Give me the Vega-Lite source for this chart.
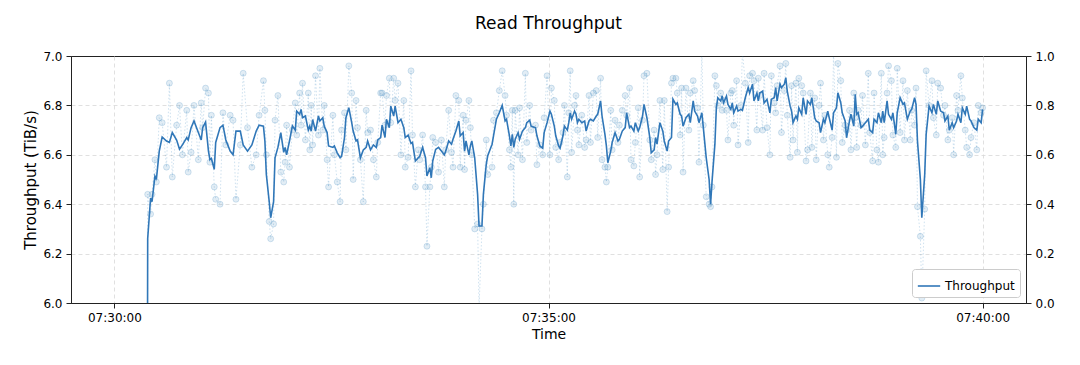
{
  "$schema": "https://vega.github.io/schema/vega-lite/v6.json",
  "width": 955,
  "height": 247,
  "autosize": {"type": "none"},
  "padding": {"left": 71, "top": 56, "right": 54, "bottom": 62},
  "background": "white",
  "title": {"text": "Read Throughput", "fontSize": 17, "fontWeight": "normal", "font": "DejaVu Sans", "color": "#000", "offset": 17, "anchor": "middle"},
  "data": {
    "format": {"parse": {"t": "date:'%H:%M:%S'"}},
    "values": [
      {"t":"07:30:00","v":0,"r":0},{"t":"07:30:21","v":0,"r":0},
      {"t":"07:30:23","v":6.26,"r":6.44},{"t":"07:30:25","v":6.425,"r":6.36},{"t":"07:30:26","v":6.41,"r":6.44},
      {"t":"07:30:28","v":6.514,"r":6.58},{"t":"07:30:29","v":6.50,"r":6.49},{"t":"07:30:31","v":6.615,"r":6.75},
      {"t":"07:30:33","v":6.672,"r":6.73},{"t":"07:30:36","v":6.656,"r":6.55},{"t":"07:30:38","v":6.65,"r":6.89},
      {"t":"07:30:40","v":6.69,"r":6.51},{"t":"07:30:43","v":6.66,"r":6.72},{"t":"07:30:45","v":6.623,"r":6.80},
      {"t":"07:30:47","v":6.64,"r":6.60},{"t":"07:30:50","v":6.67,"r":6.78},{"t":"07:30:51","v":6.66,"r":6.53},
      {"t":"07:30:53","v":6.71,"r":6.61},{"t":"07:30:55","v":6.737,"r":6.80},{"t":"07:30:58","v":6.69,"r":6.58},
      {"t":"07:31:00","v":6.66,"r":6.81},{"t":"07:31:01","v":6.71,"r":6.71},{"t":"07:31:03","v":6.733,"r":6.87},
      {"t":"07:31:05","v":6.615,"r":6.85},{"t":"07:31:06","v":6.58,"r":6.57},{"t":"07:31:07","v":6.585,"r":6.76},
      {"t":"07:31:09","v":6.541,"r":6.47},{"t":"07:31:10","v":6.65,"r":6.42},{"t":"07:31:13","v":6.71,"r":6.40},
      {"t":"07:31:15","v":6.72,"r":6.77},{"t":"07:31:17","v":6.66,"r":6.64},{"t":"07:31:20","v":6.615,"r":6.76},
      {"t":"07:31:22","v":6.60,"r":6.74},{"t":"07:31:24","v":6.696,"r":6.42},{"t":"07:31:27","v":6.696,"r":6.64},
      {"t":"07:31:29","v":6.64,"r":6.93},{"t":"07:31:32","v":6.615,"r":6.71},{"t":"07:31:35","v":6.64,"r":6.55},
      {"t":"07:31:38","v":6.696,"r":6.60},{"t":"07:31:40","v":6.72,"r":6.76},{"t":"07:31:43","v":6.716,"r":6.90},
      {"t":"07:31:44","v":6.656,"r":6.78},{"t":"07:31:45","v":6.52,"r":6.60},{"t":"07:31:47","v":6.41,"r":6.33},
      {"t":"07:31:48","v":6.345,"r":6.26},{"t":"07:31:50","v":6.41,"r":6.32},{"t":"07:31:51","v":6.588,"r":6.74},
      {"t":"07:31:53","v":6.63,"r":6.84},{"t":"07:31:55","v":6.69,"r":6.53},{"t":"07:31:57","v":6.61,"r":6.49},
      {"t":"07:31:58","v":6.63,"r":6.57},{"t":"07:31:59","v":6.60,"r":6.72},{"t":"07:32:01","v":6.656,"r":6.55},
      {"t":"07:32:03","v":6.717,"r":6.70},{"t":"07:32:05","v":6.70,"r":6.81},{"t":"07:32:06","v":6.777,"r":6.68},
      {"t":"07:32:08","v":6.764,"r":6.85},{"t":"07:32:09","v":6.784,"r":6.72},{"t":"07:32:10","v":6.75,"r":6.89},
      {"t":"07:32:12","v":6.757,"r":6.66},{"t":"07:32:14","v":6.70,"r":6.85},{"t":"07:32:15","v":6.716,"r":6.62},
      {"t":"07:32:16","v":6.696,"r":6.80},{"t":"07:32:17","v":6.743,"r":6.64},{"t":"07:32:19","v":6.696,"r":6.92},
      {"t":"07:32:21","v":6.757,"r":6.68},{"t":"07:32:22","v":6.737,"r":6.95},{"t":"07:32:24","v":6.75,"r":6.70},
      {"t":"07:32:25","v":6.716,"r":6.80},{"t":"07:32:27","v":6.69,"r":6.58},{"t":"07:32:28","v":6.636,"r":6.47},
      {"t":"07:32:31","v":6.63,"r":6.76},{"t":"07:32:32","v":6.636,"r":6.60},{"t":"07:32:34","v":6.608,"r":6.49},
      {"t":"07:32:36","v":6.588,"r":6.41},{"t":"07:32:37","v":6.594,"r":6.70},{"t":"07:32:39","v":6.669,"r":6.77},
      {"t":"07:32:40","v":6.75,"r":6.62},{"t":"07:32:42","v":6.791,"r":6.96},{"t":"07:32:44","v":6.73,"r":6.85},
      {"t":"07:32:45","v":6.696,"r":6.50},{"t":"07:32:47","v":6.656,"r":6.82},{"t":"07:32:48","v":6.66,"r":6.71},
      {"t":"07:32:50","v":6.588,"r":6.58},{"t":"07:32:52","v":6.62,"r":6.41},{"t":"07:32:54","v":6.63,"r":6.78},
      {"t":"07:32:55","v":6.656,"r":6.69},{"t":"07:32:57","v":6.62,"r":6.70},{"t":"07:32:59","v":6.64,"r":6.58},
      {"t":"07:33:01","v":6.63,"r":6.51},{"t":"07:33:02","v":6.66,"r":6.65},{"t":"07:33:04","v":6.67,"r":6.85},
      {"t":"07:33:05","v":6.72,"r":6.85},{"t":"07:33:07","v":6.67,"r":6.72},{"t":"07:33:08","v":6.744,"r":6.84},
      {"t":"07:33:10","v":6.71,"r":6.91},{"t":"07:33:11","v":6.797,"r":6.73},{"t":"07:33:13","v":6.757,"r":6.91},
      {"t":"07:33:14","v":6.797,"r":6.82},{"t":"07:33:16","v":6.73,"r":6.89},{"t":"07:33:18","v":6.744,"r":6.60},
      {"t":"07:33:20","v":6.71,"r":6.82},{"t":"07:33:21","v":6.67,"r":6.55},{"t":"07:33:23","v":6.68,"r":6.59},
      {"t":"07:33:25","v":6.646,"r":6.94},{"t":"07:33:26","v":6.65,"r":6.68},{"t":"07:33:28","v":6.575,"r":6.47},
      {"t":"07:33:30","v":6.588,"r":6.62},{"t":"07:33:31","v":6.594,"r":6.58},{"t":"07:33:33","v":6.63,"r":6.68},
      {"t":"07:33:35","v":6.588,"r":6.47},{"t":"07:33:36","v":6.514,"r":6.23},{"t":"07:33:38","v":6.548,"r":6.47},
      {"t":"07:33:39","v":6.507,"r":6.55},{"t":"07:33:40","v":6.575,"r":6.67},{"t":"07:33:42","v":6.622,"r":6.65},
      {"t":"07:33:44","v":6.63,"r":6.53},{"t":"07:33:46","v":6.615,"r":6.66},{"t":"07:33:48","v":6.60,"r":6.47},
      {"t":"07:33:49","v":6.615,"r":6.62},{"t":"07:33:51","v":6.656,"r":6.78},{"t":"07:33:53","v":6.643,"r":6.61},
      {"t":"07:33:54","v":6.663,"r":6.55},{"t":"07:33:56","v":6.696,"r":6.84},{"t":"07:33:58","v":6.737,"r":6.82},
      {"t":"07:33:59","v":6.677,"r":6.55},{"t":"07:34:01","v":6.69,"r":6.76},{"t":"07:34:02","v":6.615,"r":6.54},
      {"t":"07:34:03","v":6.656,"r":6.74},{"t":"07:34:05","v":6.60,"r":6.82},{"t":"07:34:06","v":6.636,"r":6.71},
      {"t":"07:34:07","v":6.656,"r":6.60},{"t":"07:34:09","v":6.588,"r":6.30},{"t":"07:34:11","v":6.44,"r":6.32},
      {"t":"07:34:12","v":6.312,"r":5.98},{"t":"07:34:14","v":6.312,"r":6.30},{"t":"07:34:15","v":6.44,"r":6.40},
      {"t":"07:34:17","v":6.562,"r":6.66},{"t":"07:34:18","v":6.596,"r":6.52},{"t":"07:34:21","v":6.643,"r":6.55},
      {"t":"07:34:22","v":6.677,"r":6.74},{"t":"07:34:24","v":6.744,"r":6.77},{"t":"07:34:26","v":6.77,"r":6.86},
      {"t":"07:34:28","v":6.80,"r":6.94},{"t":"07:34:30","v":6.737,"r":6.84},{"t":"07:34:31","v":6.744,"r":6.76},
      {"t":"07:34:33","v":6.677,"r":6.62},{"t":"07:34:34","v":6.636,"r":6.55},{"t":"07:34:35","v":6.683,"r":6.78},
      {"t":"07:34:36","v":6.63,"r":6.40},{"t":"07:34:37","v":6.663,"r":6.78},{"t":"07:34:39","v":6.69,"r":6.60},
      {"t":"07:34:40","v":6.663,"r":6.79},{"t":"07:34:42","v":6.696,"r":6.58},{"t":"07:34:44","v":6.71,"r":6.93},
      {"t":"07:34:45","v":6.73,"r":6.65},{"t":"07:34:47","v":6.74,"r":6.80},{"t":"07:34:48","v":6.716,"r":6.70},
      {"t":"07:34:51","v":6.71,"r":6.72},{"t":"07:34:52","v":6.677,"r":6.56},{"t":"07:34:54","v":6.636,"r":6.64},
      {"t":"07:34:56","v":6.627,"r":6.60},{"t":"07:34:57","v":6.69,"r":6.75},{"t":"07:34:59","v":6.73,"r":6.92},
      {"t":"07:35:01","v":6.777,"r":6.60},{"t":"07:35:02","v":6.764,"r":6.87},{"t":"07:35:04","v":6.716,"r":6.82},
      {"t":"07:35:05","v":6.677,"r":6.63},{"t":"07:35:07","v":6.636,"r":6.58},{"t":"07:35:08","v":6.627,"r":6.65},
      {"t":"07:35:10","v":6.677,"r":6.69},{"t":"07:35:11","v":6.716,"r":6.80},{"t":"07:35:13","v":6.70,"r":6.51},
      {"t":"07:35:14","v":6.73,"r":6.77},{"t":"07:35:15","v":6.77,"r":6.94},{"t":"07:35:16","v":6.744,"r":6.61},
      {"t":"07:35:18","v":6.777,"r":6.80},{"t":"07:35:19","v":6.764,"r":6.84},{"t":"07:35:20","v":6.73,"r":6.70},
      {"t":"07:35:21","v":6.744,"r":6.64},{"t":"07:35:23","v":6.73,"r":6.76},{"t":"07:35:25","v":6.737,"r":6.63},
      {"t":"07:35:26","v":6.696,"r":6.66},{"t":"07:35:28","v":6.737,"r":6.84},{"t":"07:35:29","v":6.744,"r":6.65},
      {"t":"07:35:31","v":6.737,"r":6.85},{"t":"07:35:33","v":6.757,"r":6.86},{"t":"07:35:34","v":6.764,"r":6.67},
      {"t":"07:35:36","v":6.818,"r":6.91},{"t":"07:35:37","v":6.757,"r":6.58},{"t":"07:35:39","v":6.683,"r":6.55},
      {"t":"07:35:40","v":6.636,"r":6.49},{"t":"07:35:41","v":6.568,"r":6.55},{"t":"07:35:43","v":6.615,"r":6.78},
      {"t":"07:35:44","v":6.65,"r":6.62},{"t":"07:35:46","v":6.69,"r":6.74},{"t":"07:35:48","v":6.656,"r":6.65},
      {"t":"07:35:49","v":6.663,"r":6.72},{"t":"07:35:51","v":6.696,"r":6.78},{"t":"07:35:53","v":6.71,"r":6.84},
      {"t":"07:35:54","v":6.77,"r":6.76},{"t":"07:35:56","v":6.71,"r":6.87},{"t":"07:35:57","v":6.716,"r":6.58},
      {"t":"07:35:59","v":6.696,"r":6.555},{"t":"07:36:00","v":6.73,"r":6.65},{"t":"07:36:02","v":6.696,"r":6.79},
      {"t":"07:36:03","v":6.71,"r":6.51},{"t":"07:36:05","v":6.757,"r":6.74},{"t":"07:36:06","v":6.804,"r":6.92},
      {"t":"07:36:08","v":6.75,"r":6.93},{"t":"07:36:10","v":6.67,"r":6.66},{"t":"07:36:11","v":6.608,"r":6.58},
      {"t":"07:36:13","v":6.62,"r":6.70},{"t":"07:36:14","v":6.67,"r":6.52},{"t":"07:36:15","v":6.643,"r":6.60},
      {"t":"07:36:17","v":6.73,"r":6.82},{"t":"07:36:19","v":6.696,"r":6.54},{"t":"07:36:20","v":6.656,"r":6.82},
      {"t":"07:36:22","v":6.615,"r":6.37},{"t":"07:36:23","v":6.656,"r":6.55},{"t":"07:36:25","v":6.67,"r":6.89},
      {"t":"07:36:26","v":6.825,"r":6.91},{"t":"07:36:28","v":6.804,"r":6.91},{"t":"07:36:29","v":6.81,"r":6.85},
      {"t":"07:36:31","v":6.764,"r":6.68},{"t":"07:36:32","v":6.757,"r":6.87},{"t":"07:36:33","v":6.716,"r":6.53},
      {"t":"07:36:35","v":6.75,"r":6.87},{"t":"07:36:37","v":6.764,"r":6.70},{"t":"07:36:38","v":6.73,"r":6.85},
      {"t":"07:36:40","v":6.818,"r":6.90},{"t":"07:36:41","v":6.777,"r":6.86},{"t":"07:36:43","v":6.757,"r":6.79},
      {"t":"07:36:44","v":6.73,"r":6.57},{"t":"07:36:46","v":6.77,"r":7.02},{"t":"07:36:47","v":6.71,"r":6.72},
      {"t":"07:36:49","v":6.588,"r":6.43},{"t":"07:36:51","v":6.50,"r":6.40},{"t":"07:36:52","v":6.40,"r":6.39},
      {"t":"07:36:53","v":6.49,"r":6.47},{"t":"07:36:55","v":6.643,"r":6.92},{"t":"07:36:56","v":6.79,"r":6.88},
      {"t":"07:36:57","v":6.831,"r":6.80},{"t":"07:36:59","v":6.818,"r":6.85},{"t":"07:37:00","v":6.838,"r":6.78},
      {"t":"07:37:01","v":6.81,"r":6.82},{"t":"07:37:03","v":6.838,"r":6.78},{"t":"07:37:04","v":6.804,"r":6.66},
      {"t":"07:37:06","v":6.784,"r":6.85},{"t":"07:37:07","v":6.81,"r":6.86},{"t":"07:37:08","v":6.77,"r":6.72},
      {"t":"07:37:10","v":6.797,"r":6.90},{"t":"07:37:11","v":6.777,"r":6.64},{"t":"07:37:13","v":6.784,"r":6.80},
      {"t":"07:37:14","v":6.78,"r":7.02},{"t":"07:37:16","v":6.831,"r":6.89},{"t":"07:37:18","v":6.872,"r":6.65},
      {"t":"07:37:19","v":6.85,"r":6.92},{"t":"07:37:21","v":6.886,"r":6.93},{"t":"07:37:22","v":6.818,"r":6.90},
      {"t":"07:37:24","v":6.85,"r":6.70},{"t":"07:37:25","v":6.818,"r":6.91},{"t":"07:37:26","v":6.85,"r":6.84},
      {"t":"07:37:28","v":6.858,"r":6.70},{"t":"07:37:29","v":6.81,"r":6.93},{"t":"07:37:31","v":6.825,"r":6.71},
      {"t":"07:37:33","v":6.77,"r":6.60},{"t":"07:37:34","v":6.825,"r":6.92},{"t":"07:37:36","v":6.831,"r":6.81},
      {"t":"07:37:37","v":6.872,"r":6.77},{"t":"07:37:38","v":6.818,"r":6.88},{"t":"07:37:40","v":6.886,"r":6.96},
      {"t":"07:37:41","v":6.872,"r":6.69},{"t":"07:37:43","v":6.886,"r":6.86},{"t":"07:37:44","v":6.912,"r":6.97},
      {"t":"07:37:45","v":6.858,"r":6.76},{"t":"07:37:47","v":6.797,"r":6.59},{"t":"07:37:48","v":6.777,"r":6.88},
      {"t":"07:37:49","v":6.73,"r":6.66},{"t":"07:37:51","v":6.757,"r":6.89},{"t":"07:37:52","v":6.744,"r":6.61},
      {"t":"07:37:53","v":6.79,"r":6.91},{"t":"07:37:55","v":6.764,"r":6.88},{"t":"07:37:56","v":6.831,"r":6.85},
      {"t":"07:37:58","v":6.764,"r":6.575},{"t":"07:37:59","v":6.818,"r":6.62},{"t":"07:38:01","v":6.804,"r":6.85},
      {"t":"07:38:02","v":6.831,"r":6.63},{"t":"07:38:04","v":6.75,"r":6.83},{"t":"07:38:05","v":6.737,"r":6.58},
      {"t":"07:38:07","v":6.73,"r":6.80},{"t":"07:38:08","v":6.69,"r":6.89},{"t":"07:38:10","v":6.744,"r":6.66},
      {"t":"07:38:11","v":6.73,"r":6.76},{"t":"07:38:13","v":6.777,"r":6.60},{"t":"07:38:14","v":6.75,"r":6.55},
      {"t":"07:38:16","v":6.70,"r":6.67},{"t":"07:38:17","v":6.77,"r":7.02},{"t":"07:38:19","v":6.79,"r":6.59},
      {"t":"07:38:20","v":6.851,"r":6.97},{"t":"07:38:22","v":6.81,"r":6.90},{"t":"07:38:23","v":6.77,"r":6.65},
      {"t":"07:38:25","v":6.737,"r":6.72},{"t":"07:38:26","v":6.669,"r":6.70},{"t":"07:38:28","v":6.737,"r":6.78},
      {"t":"07:38:29","v":6.764,"r":6.62},{"t":"07:38:31","v":6.716,"r":6.85},{"t":"07:38:32","v":6.845,"r":6.75},
      {"t":"07:38:33","v":6.764,"r":6.63},{"t":"07:38:34","v":6.77,"r":6.78},{"t":"07:38:36","v":6.71,"r":6.72},
      {"t":"07:38:37","v":6.716,"r":6.84},{"t":"07:38:39","v":6.73,"r":6.64},{"t":"07:38:41","v":6.744,"r":6.93},
      {"t":"07:38:42","v":6.70,"r":6.69},{"t":"07:38:44","v":6.69,"r":6.575},{"t":"07:38:45","v":6.744,"r":6.85},
      {"t":"07:38:47","v":6.73,"r":6.62},{"t":"07:38:48","v":6.77,"r":6.57},{"t":"07:38:50","v":6.73,"r":6.93},
      {"t":"07:38:51","v":6.777,"r":6.60},{"t":"07:38:52","v":6.73,"r":6.67},{"t":"07:38:54","v":6.818,"r":6.85},
      {"t":"07:38:55","v":6.764,"r":6.96},{"t":"07:38:57","v":6.744,"r":6.90},{"t":"07:38:58","v":6.77,"r":6.68},
      {"t":"07:39:00","v":6.683,"r":6.63},{"t":"07:39:01","v":6.77,"r":6.95},{"t":"07:39:03","v":6.831,"r":6.69},
      {"t":"07:39:05","v":6.804,"r":6.90},{"t":"07:39:06","v":6.81,"r":6.66},{"t":"07:39:08","v":6.744,"r":6.86},
      {"t":"07:39:10","v":6.777,"r":6.66},{"t":"07:39:11","v":6.784,"r":6.78},{"t":"07:39:13","v":6.831,"r":6.72},
      {"t":"07:39:14","v":6.804,"r":6.87},{"t":"07:39:15","v":6.656,"r":6.39},{"t":"07:39:17","v":6.50,"r":6.27},
      {"t":"07:39:18","v":6.345,"r":6.02},{"t":"07:39:20","v":6.52,"r":6.38},{"t":"07:39:21","v":6.683,"r":6.94},
      {"t":"07:39:23","v":6.797,"r":6.80},{"t":"07:39:25","v":6.77,"r":6.90},{"t":"07:39:26","v":6.804,"r":6.75},
      {"t":"07:39:28","v":6.764,"r":6.68},{"t":"07:39:29","v":6.818,"r":6.89},{"t":"07:39:31","v":6.777,"r":6.87},
      {"t":"07:39:33","v":6.77,"r":6.76},{"t":"07:39:34","v":6.737,"r":6.80},{"t":"07:39:36","v":6.757,"r":6.66},
      {"t":"07:39:37","v":6.70,"r":6.70},{"t":"07:39:39","v":6.73,"r":6.75},{"t":"07:39:40","v":6.71,"r":6.60},
      {"t":"07:39:42","v":6.737,"r":6.84},{"t":"07:39:43","v":6.764,"r":6.78},{"t":"07:39:45","v":6.73,"r":6.92},
      {"t":"07:39:46","v":6.79,"r":6.83},{"t":"07:39:48","v":6.764,"r":6.70},{"t":"07:39:49","v":6.797,"r":6.63},
      {"t":"07:39:51","v":6.744,"r":6.60},{"t":"07:39:52","v":6.737,"r":6.67},{"t":"07:39:54","v":6.71,"r":6.73},
      {"t":"07:39:56","v":6.70,"r":6.62},{"t":"07:39:57","v":6.744,"r":6.80},{"t":"07:39:59","v":6.73,"r":6.77},
      {"t":"07:40:00","v":6.784,"r":6.79}
    ]
  },
  "layer": [
    {
      "encoding": {
        "x": {
          "field": "t", "type": "temporal", "title": "Time",
          "scale": {"domain": [{"year": 1900, "month": 1, "date": 1, "hours": 7, "minutes": 29, "seconds": 30}, {"year": 1900, "month": 1, "date": 1, "hours": 7, "minutes": 40, "seconds": 30}]},
          "axis": {
            "format": "%H:%M:%S",
            "values": [{"year": 1900, "month": 1, "date": 1, "hours": 7, "minutes": 30}, {"year": 1900, "month": 1, "date": 1, "hours": 7, "minutes": 35}, {"year": 1900, "month": 1, "date": 1, "hours": 7, "minutes": 40}],
            "grid": true, "labelFlush": false, "labelOverlap": false
          }
        }
      },
      "layer": [
        {
          "mark": {"type": "line", "clip": true, "color": "#1f77b4", "strokeWidth": 1, "strokeDash": [1.5, 2], "opacity": 0.22},
          "encoding": {"y": {"field": "r", "type": "quantitative"}}
        },
        {
          "mark": {"type": "point", "clip": true, "filled": true, "color": "#1f77b4", "size": 36, "fillOpacity": 0.13, "strokeOpacity": 0.18, "stroke": "#1f77b4", "strokeWidth": 1},
          "encoding": {"y": {"field": "r", "type": "quantitative"}}
        },
        {
          "mark": {"type": "line", "clip": true, "strokeWidth": 1.6},
          "encoding": {
            "y": {
              "field": "v", "type": "quantitative", "title": "Throughput (TiB/s)",
              "scale": {"domain": [6, 7], "nice": false, "zero": false},
              "axis": {"values": [6, 6.2, 6.4, 6.6, 6.8, 7], "format": ".1f", "grid": true, "titlePadding": 4, "titleFontSize": 15,
                "gridOpacity": {"condition": {"test": "datum.value <= 6.01 || datum.value >= 6.99", "value": 0}, "value": 1}}
            },
            "color": {
              "datum": "Throughput",
              "scale": {"range": ["#3077b8"]},
              "legend": {"title": null, "orient": "bottom-right", "offset": 6, "symbolType": "stroke", "symbolSize": 500, "symbolStrokeWidth": 1.6, "labelFontSize": 12, "labelFont": "DejaVu Sans", "padding": 5, "strokeColor": "#cccccc", "fillColor": "white", "cornerRadius": 3, "labelColor": "#000"}
            }
          }
        }
      ]
    },
    {
      "data": {"values": [{"z": 0}, {"z": 1}]},
      "mark": {"type": "point", "opacity": 0},
      "encoding": {
        "y": {
          "field": "z", "type": "quantitative", "title": null,
          "scale": {"domain": [0, 1], "nice": false},
          "axis": {"orient": "right", "values": [0, 0.2, 0.4, 0.6, 0.8, 1], "format": ".1f", "grid": false}
        }
      }
    }
  ],
  "resolve": {"scale": {"y": "independent"}},
  "config": {
    "font": "DejaVu Sans",
    "view": {"stroke": "#222", "strokeWidth": 1},
    "axis": {
      "labelFont": "DejaVu Sans", "labelFontSize": 12, "labelColor": "#000",
      "titleFont": "DejaVu Sans", "titleFontSize": 14, "titleFontWeight": "normal", "titleColor": "#000",
      "domainColor": "#222", "tickColor": "#222", "tickSize": 5, "labelPadding": 4,
      "gridColor": "#d8d8d8", "gridDash": [4, 3], "gridWidth": 0.8
    },
    "axisX": {"titlePadding": 4},
    "legend": {"labelFont": "DejaVu Sans"}
  }
}
